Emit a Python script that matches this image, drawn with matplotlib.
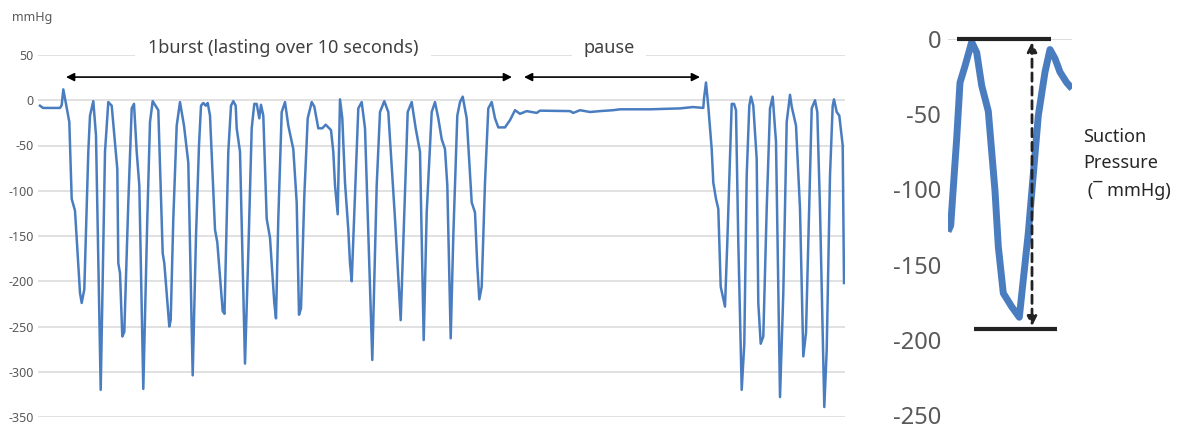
import matplotlib
matplotlib.use("Agg")
import matplotlib.pyplot as plt

plt.rcParams['font.family'] = ['Noto Sans', 'DejaVu Sans']
plt.rcParams['axes.unicode_minus'] = False

# ---------------- data ----------------
# long recording (sample position, pressure mmHg)
rec_t = [40, 43, 60, 61.7, 63.3, 65, 69.3, 71.7, 75, 80, 81.7, 84.3, 88.3, 90, 93.3, 96,
         100.7, 105, 108.3, 111.7, 117.3, 118.3, 120, 122.3, 124.3, 128.3, 131.7, 134,
         136.7, 139.3, 143.3, 147.3, 150, 152.7, 158.3, 162.7, 164.3, 169.3, 170.7, 173.3,
         176.7, 180, 184, 188.3, 192.7, 196, 199, 201, 203.3, 205.7, 207.7, 210, 215,
         217.3, 222.7, 224.5, 228.3, 231, 233.3, 235.7, 236.7, 240, 245, 248.3, 251.7,
         254.3, 256.7, 259.3, 261, 263.3, 266.7, 270, 274.3, 276, 278.3, 281.7, 285,
         288.3, 293.3, 296.7, 299, 301, 304.3, 307.7, 311.7, 314.3, 318.3, 322.3, 325.7,
         331, 333.3, 335, 337.7, 340, 342.3, 345, 348.3, 350, 351.7, 355, 358.3, 361.7,
         365, 372.3, 376.7, 380, 384.3, 388.3, 395, 400.7, 404.3, 407.7, 411.7, 415.7,
         420, 423.7, 426.7, 431.7, 435, 438.3, 441.7, 445, 447.3, 450.7, 453.3, 457.3,
         460, 462.7, 466.7, 471.7, 475, 477.3, 479.3, 481.7, 485, 488.3, 491.7, 495,
         498.3, 505, 510, 515, 520, 526.7, 536.7, 540, 570, 573.3, 580, 590, 600, 613,
         620, 650, 680, 693, 703.3, 704, 706, 708.3, 711.7, 713.3, 716, 718.3, 720.7,
         725, 727.3, 731.7, 734, 736, 738.3, 741.7, 744.3, 746.7, 749.3, 751, 753.3,
         756.7, 758.3, 760.7, 763.3, 766.7, 770, 772.7, 776, 780, 783.3, 786.7, 790,
         791.7, 796, 800, 803.3, 806, 808.3, 811.7, 815, 817.3, 820, 824.3, 826.7, 830,
         832.7, 834, 836.7, 839.3, 842.7, 844]
rec_p = [-6, -8.5, -8.5, -5.5, 12, 2, -24, -109, -122, -213, -224, -209, -57, -17, -1, -39,
         -320, -57, -2, -6, -76, -180, -191, -261, -256, -113, -9, -4,
         -57, -94, -319, -131, -24, -1, -11, -169, -180, -250, -243, -131,
         -28, -2, -28, -69, -304, -150, -50, -6, -3, -6, -3, -17, -143,
         -157, -233, -236, -57, -6, -1, -6, -31, -57, -291, -169, -31,
         -4, -4, -20, -5, -17, -131, -152, -224, -241, -131, -13, -2,
         -28, -54, -113, -237, -230, -106, -20, -2, -7, -31, -31, -27,
         -33, -57, -94, -126, 1, -20, -91, -143, -180, -200, -106, -9, -2,
         -31, -287, -94, -13, -1, -13, -131, -243, -124, -13, -2, -31,
         -57, -265, -124, -13, -2, -20, -43, -54, -94, -263, -150, -17,
         -2, 4, -20, -113, -124, -183, -220, -206, -91, -9, -2, -20,
         -30, -30, -22, -11, -15, -12, -14, -11.5, -12, -14, -11, -13, -12, -11,
         -10, -10, -9, -7.5, -8.5, 2, 19.6, -7, -54, -91, -109, -120, -206,
         -228, -157, -4, -4, -11, -157, -320, -269, -83, -6, 4, -6,
         -65, -224, -269, -261, -120, -9, 4, -46, -328, -213, -24, 6,
         -7, -28, -120, -283, -257, -157, -9, 0, -13, -120, -339, -276, -83,
         -6, 1, -13, -17, -50, -202]

left_ticks = [50, 0, -50, -100, -150, -200, -250, -300, -350]

# single-cycle close-up
cyc_t = [948, 950.7, 956.7, 960, 965, 971.7, 976.7, 981.7, 988.3, 995, 998.3, 1003.3,
         1011.7, 1019.3, 1023.3, 1028.3, 1033.3, 1038.3, 1045, 1050, 1055, 1060, 1066.7, 1072]
cyc_p = [-128, -124, -66, -29, -18, -2, -9, -31, -48, -101, -138, -169,
         -178, -185, -160, -129, -90, -51, -22, -7, -13, -22, -29, -33]
right_ticks = [0, -50, -100, -150, -200, -250]

peak_level = 0
trough_level = -193
peak_bar = (957, 1051)
trough_bar = (974, 1057)
measure_x = 1032

burst_span = (66, 512)
pause_span = (524, 700)
arrow_level = 25.6
label_level = 57.8

# ---------------- style ----------------
W, H = 1181, 430
BLUE = '#4a7dc0'
GRID = '#d9d9d9'
TICK = '#595959'
TXT = '#404040'

fig = plt.figure(figsize=(W / 100, H / 100), dpi=100)

# left panel
ax = fig.add_axes([38 / W, 1 - 417 / H, (845 - 38) / W, (417 - 55) / H])
ax.plot(rec_t, rec_p, color=BLUE, lw=1.8, solid_joinstyle='round')
ax.set_xlim(38, 845)
ax.set_ylim(-350, 50)
ax.set_yticks(left_ticks)
ax.set_yticklabels([str(v) for v in left_ticks])
ax.set_xticks([])
ax.tick_params(axis='y', length=0, pad=3, labelsize=9, labelcolor=TICK)
ax.grid(axis='y', color=GRID, lw=1.1)
ax.set_axisbelow(True)
for s in ax.spines.values():
    s.set_visible(False)

fig.text(12 / W, 1 - 18 / H, 'mmHg', fontsize=9, color=TICK, ha='left', va='center')

for span in (burst_span, pause_span):
    ax.annotate('', xy=(span[1], arrow_level), xytext=(span[0], arrow_level),
                annotation_clip=False,
                arrowprops=dict(arrowstyle='<|-|>', color='black', lw=1.2,
                                mutation_scale=12, shrinkA=0, shrinkB=0))
ax.text(sum(burst_span) / 2 - 6, label_level, '1burst (lasting over 10 seconds)',
        fontsize=13, color=TXT, ha='center', va='center', clip_on=False,
        bbox=dict(boxstyle='square,pad=0.7', fc='white', ec='none'))
ax.text(sum(pause_span) / 2 - 3, label_level, 'pause',
        fontsize=13, color=TXT, ha='center', va='center', clip_on=False,
        bbox=dict(boxstyle='square,pad=0.65', fc='white', ec='none'))

# right panel
ax2 = fig.add_axes([948 / W, 1 - 415 / H, 124 / W, 376 / H])
ax2.plot(cyc_t, cyc_p, color=BLUE, lw=5, solid_joinstyle='round', solid_capstyle='butt')
ax2.set_xlim(948, 1072)
ax2.set_ylim(-250, 0)
ax2.set_yticks(right_ticks)
ax2.set_yticklabels([str(v) for v in right_ticks])
ax2.set_xticks([])
ax2.tick_params(axis='y', length=0, pad=5, labelsize=17, labelcolor=TICK)
ax2.grid(axis='y', color=GRID, lw=1.3)
for i, gl in enumerate(ax2.get_ygridlines()):
    gl.set_visible(right_ticks[i] == 0)
ax2.set_axisbelow(True)
for s in ax2.spines.values():
    s.set_visible(False)

ax2.plot(peak_bar, [peak_level, peak_level], color='#222222', lw=3, clip_on=False,
         solid_capstyle='butt')
ax2.plot(trough_bar, [trough_level, trough_level], color='#222222', lw=3, clip_on=False,
         solid_capstyle='butt')
ax2.annotate('', xy=(measure_x, trough_level + 2), xytext=(measure_x, peak_level - 2),
             annotation_clip=False,
             arrowprops=dict(arrowstyle='<|-|>', color='#222222', lw=2, ls=(0, (3, 2)),
                             mutation_scale=14, shrinkA=0, shrinkB=0))

fig.text(1083 / W, 1 - 164 / H, 'Suction\nPressure\n (\u00af mmHg)', fontsize=13, color='#262626',
         ha='left', va='center', linespacing=1.6,
         family=['Noto Sans', 'DejaVu Sans'])

fig.savefig('out.png', dpi=100)
